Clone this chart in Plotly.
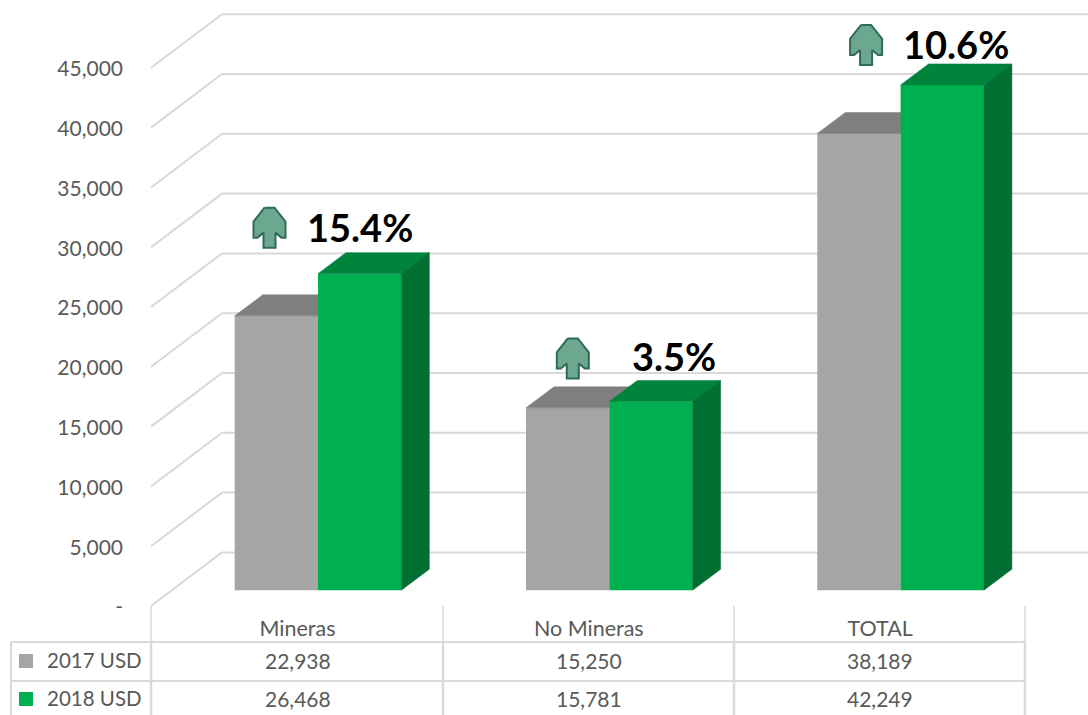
import plotly.graph_objects as go

categories = ["Mineras", "No Mineras", "TOTAL"]
series_names = ["2017 USD", "2018 USD"]
values_2017 = [22938, 15250, 38189]
values_2018 = [26468, 15781, 42249]
pct_labels = ["15.4%", "3.5%", "10.6%"]
y_ticks = [0, 5000, 10000, 15000, 20000, 25000, 30000, 35000, 40000, 45000]
y_tick_labels = ["-", "5,000", "10,000", "15,000", "20,000", "25,000", "30,000", "35,000", "40,000", "45,000"]

W, H = 1088, 715
GRID = "#D9D9D9"
TEXT = "#595959"
FONT = "Lato"
C_GRAY, C_GRAY_TOP = "#A5A5A5", "#7F7F7F"
C_GREEN, C_GREEN_TOP, C_GREEN_SIDE = "#00B050", "#00843C", "#006F32"

# pixel <-> axis conversion
L, FLOOR = 151, 606
CAT_PX = 291.3
CENTER0 = 297.5
UNIT_PX = 59.8 / 5000
def dx(px): return px / CAT_PX
def dy(px): return px / UNIT_PX
def xpx(px): return (px - CENTER0) / CAT_PX
def ypx(py): return (FLOOR - py) / UNIT_PX
def xp(px): return (px - L) / (W - L)
def yp(py): return (FLOOR - py) / FLOOR

X_RANGE = [xpx(L), xpx(W)]
Y_RANGE = [0, ypx(0)]
WALL_DX, WALL_DY = dx(71), dy(53.6)
BAR_W = dx(83.3)
GROUP_SHIFT = dx(20.5)
BAR_BASE = dy(15.8)
SIDE_DX, SIDE_DY = dx(28), dy(21)

fig = go.Figure()
shapes = []
# back wall + left side wall gridlines
for t in y_ticks:
    shapes.append(dict(type="line", xref="x", yref="y", layer="below", x0=X_RANGE[0], y0=t,
                       x1=X_RANGE[0] + WALL_DX, y1=t + WALL_DY, line=dict(color=GRID, width=2)))
    shapes.append(dict(type="line", xref="x", yref="y", layer="below", x0=X_RANGE[0] + WALL_DX, y0=t + WALL_DY,
                       x1=X_RANGE[1], y1=t + WALL_DY, line=dict(color=GRID, width=2)))

xs = list(range(len(categories)))
x_gray = [i + GROUP_SHIFT - BAR_W / 2 for i in xs]
x_green = [i + GROUP_SHIFT + BAR_W / 2 for i in xs]

fig.add_trace(go.Bar(x=x_gray, y=values_2017, base=BAR_BASE, width=BAR_W, marker=dict(color=C_GRAY, line=dict(width=0)),
                     name=series_names[0], showlegend=False))

def poly(pts, color, axes):
    fig.add_trace(go.Scatter(x=[p[0] for p in pts] + [pts[0][0]], y=[p[1] for p in pts] + [pts[0][1]],
                             mode="lines", fill="toself", fillcolor=color, line=dict(color=color, width=0.5),
                             hoverinfo="skip", showlegend=False, xaxis=axes[0], yaxis=axes[1]))

for xc, v in zip(x_gray, values_2017):
    top = BAR_BASE + v
    a, b = xc - BAR_W / 2, xc + BAR_W / 2
    poly([(a, top), (b, top), (b + SIDE_DX, top + SIDE_DY), (a + SIDE_DX, top + SIDE_DY)], C_GRAY_TOP, ("x", "y"))

fig.add_trace(go.Bar(x=x_green, y=values_2018, base=BAR_BASE, width=BAR_W, marker=dict(color=C_GREEN, line=dict(width=0)),
                     name=series_names[1], showlegend=False, xaxis="x2", yaxis="y2"))
for xc, v in zip(x_green, values_2018):
    top = BAR_BASE + v
    a, b = xc - BAR_W / 2, xc + BAR_W / 2
    poly([(a, top), (b, top), (b + SIDE_DX, top + SIDE_DY), (a + SIDE_DX, top + SIDE_DY)], C_GREEN_TOP, ("x2", "y2"))
    poly([(b, BAR_BASE), (b + SIDE_DX, BAR_BASE + SIDE_DY), (b + SIDE_DX, top + SIDE_DY), (b, top)], C_GREEN_SIDE, ("x2", "y2"))

# arrows and percentage labels, placed relative to each green bar
arrow_outline = [(-5, -20), (5, -20), (16, -6), (16, 10), (12, 10), (6, 5), (6, 20), (-6, 20), (-6, 5), (-12, 10), (-16, 10), (-16, -6)]
arrow_offset = [(-48.5, 46), (-36.5, 43), (-34.5, 40)]
label_offset = [(42, 47), (64.5, 45), (55.5, 41)]
annotations = []
for i, v in enumerate(values_2018):
    xa = i + GROUP_SHIFT + dx(arrow_offset[i][0])
    ya = BAR_BASE + v + dy(arrow_offset[i][1])
    px_ = [xa + dx(p[0]) for p in arrow_outline] + [xa + dx(arrow_outline[0][0])]
    py_ = [ya - dy(p[1]) for p in arrow_outline] + [ya - dy(arrow_outline[0][1])]
    fig.add_trace(go.Scatter(x=px_, y=py_, mode="lines", fill="toself", fillcolor="#6BA88F",
                             line=dict(color="#2F6B58", width=2), hoverinfo="skip", showlegend=False,
                             xaxis="x2", yaxis="y2"))
    annotations.append(dict(text=f"<b>{pct_labels[i]}</b>", xref="x", yref="y", showarrow=False,
                            x=i + GROUP_SHIFT + dx(label_offset[i][0]), y=BAR_BASE + v + dy(label_offset[i][1]),
                            xanchor="center", yanchor="middle", font=dict(family=FONT, size=38, color="#000000")))

# data table
def tline(x0, y0, x1, y1, width=2):
    shapes.append(dict(type="line", xref="paper", yref="paper", x0=xp(x0), y0=yp(y0), x1=xp(x1), y1=yp(y1),
                       line=dict(color=GRID, width=width)))
for py in (642, 681):
    tline(11, py, 1025, py)
tline(11, 642, 11, 715)
for px in (151, 443, 734, 1025):
    tline(px, 606, px, 642, 1.5)
    tline(px, 642, px, 715, 2.5)

rows = [(660, series_names[0], values_2017, C_GRAY), (698, series_names[1], values_2018, C_GREEN)]
for py, name, vals, color in rows:
    shapes.append(dict(type="rect", xref="paper", yref="paper", x0=xp(19), x1=xp(33), y0=yp(py - 6), y1=yp(py + 8),
                       fillcolor=color, line=dict(width=0)))
    annotations.append(dict(text=name, xref="paper", yref="paper", x=xp(144), y=yp(py), xanchor="right", yanchor="middle",
                            showarrow=False, font=dict(family=FONT, size=20.5, color=TEXT)))
    for i, v in enumerate(vals):
        annotations.append(dict(text=f"{v:,}", xref="x", yref="paper", x=i, y=yp(py), xanchor="center", yanchor="middle",
                                showarrow=False, font=dict(family=FONT, size=21, color=TEXT)))

fig.update_layout(
    width=W, height=H, margin=dict(l=L, r=0, t=0, b=H - FLOOR), paper_bgcolor="white", plot_bgcolor="white",
    barmode="overlay", showlegend=False, shapes=shapes, annotations=annotations,
    xaxis=dict(range=X_RANGE, tickmode="array", tickvals=xs, ticktext=categories, showgrid=False, zeroline=False,
               showline=False, ticks="", ticklabelstandoff=7, tickfont=dict(family=FONT, size=21.5, color=TEXT)),
    yaxis=dict(range=Y_RANGE, tickmode="array", tickvals=y_ticks, ticktext=y_tick_labels, showgrid=False, zeroline=False,
               showline=False, ticks="", ticklabelstandoff=27, ticklabelshift=1, tickfont=dict(family=FONT, size=21, color=TEXT)),
    xaxis2=dict(range=X_RANGE, overlaying="x", visible=False),
    yaxis2=dict(range=Y_RANGE, overlaying="y", visible=False),
)
fig.write_html("out.html", config=dict(displayModeBar=False), post_script="document.body.style.margin='0';")
